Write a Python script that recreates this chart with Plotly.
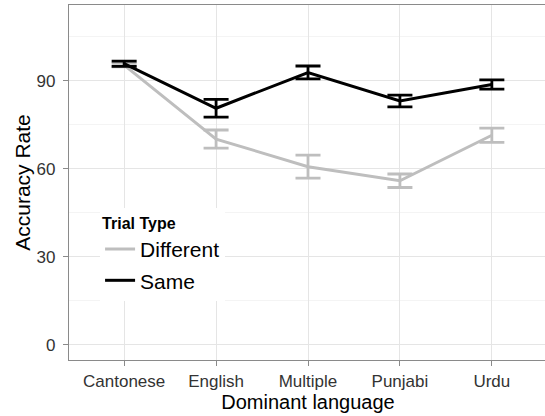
import plotly.graph_objects as go

categories = ["Cantonese", "English", "Multiple", "Punjabi", "Urdu"]
different_mean = [95.3, 70.1, 60.7, 55.9, 71.4]
different_se = [0.6, 3.1, 3.9, 2.3, 2.4]
same_mean = [95.8, 80.6, 92.8, 83.1, 88.7]
same_se = [0.9, 3.05, 2.2, 2.0, 1.6]
y_ticks = [0, 30, 60, 90]

fig = go.Figure()
fig.add_trace(go.Scatter(
    x=categories, y=different_mean, name="Different", mode="lines", legendgroup="d",
    line=dict(color="#BEBEBE", width=3),
    error_y=dict(type="data", array=different_se, color="#BEBEBE", thickness=2.8, width=12.5),
))
fig.add_trace(go.Scatter(
    x=categories, y=same_mean, name="Same", mode="lines", legendgroup="s",
    line=dict(color="#000000", width=3),
    error_y=dict(type="data", array=same_se, color="#000000", thickness=2.8, width=12.5),
))

axis_common = dict(
    showline=True, mirror=True, linecolor="#8A8A8A", linewidth=1.3,
    ticks="outside", ticklen=5, tickcolor="#8A8A8A", tickwidth=1.3,
    gridcolor="#E5E5E5", gridwidth=1.2, zeroline=False,
    tickfont=dict(family="Liberation Sans, Arial", size=17, color="#333333"),
)

fig.update_layout(
    width=547, height=416,
    margin=dict(l=69, r=0, t=5, b=56),
    paper_bgcolor="white", plot_bgcolor="white",
    font=dict(family="Liberation Sans, Arial", color="#000000"),
    xaxis=dict(
        axis_common, type="category", range=[-0.6, 4.6],
        title=dict(text="Dominant language", font=dict(size=20), standoff=5),
    ),
    yaxis=dict(
        axis_common, range=[-5.2, 115.8], tickvals=y_ticks,
        ticktext=[str(v) for v in y_ticks], ticklabelstandoff=4,
        minor=dict(tickvals=[15, 45, 75, 105], showgrid=True, gridcolor="#F4F4F4", gridwidth=1, ticks=""),
        title=dict(text="Accuracy Rate", font=dict(size=21), standoff=0),
    ),
    showlegend=True,
    legend=dict(
        x=0.065, y=0.428, xanchor="left", yanchor="top",
        bgcolor="white", borderwidth=0,
        title=dict(text="<b>Trial Type</b>", font=dict(size=16)),
        font=dict(size=21),
        itemwidth=30, tracegroupgap=1,
    ),
)

fig.write_html(
    "out.html",
    config={"displayModeBar": False},
    post_script="document.body.style.margin='0px';document.body.style.overflow='hidden';",
)
